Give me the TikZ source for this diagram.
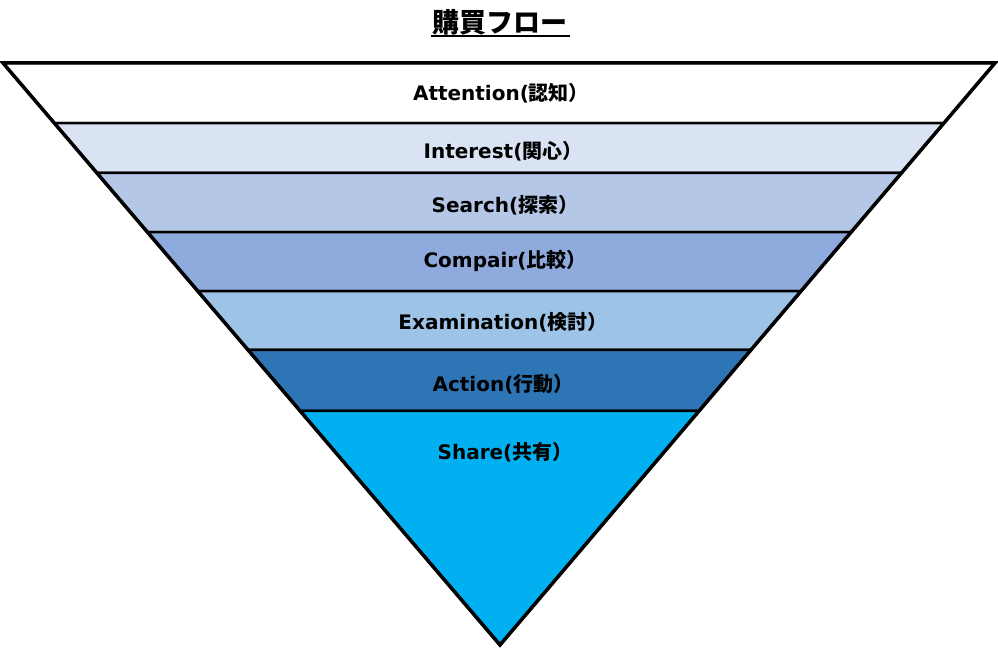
\documentclass[tikz,border=0pt]{standalone}
\usepackage{fontspec}
\newfontfamily\latf{DejaVu Sans}
\newfontfamily\cjkf{Noto Sans CJK JP}
\usetikzlibrary{calc}
\newcommand\lbl[2]{{\latf\bfseries #1}{\cjkf\bfseries #2}}
\definecolor{cInterest}{HTML}{DAE3F3}
\definecolor{cSearch}{HTML}{B4C7E7}
\definecolor{cCompair}{HTML}{8FAADC}
\definecolor{cExam}{HTML}{9DC3E6}
\definecolor{cAction}{HTML}{2E75B6}
\definecolor{cShare}{HTML}{00B0F0}
\tikzset{
  band/.style={draw=black, line width=2.5pt, line join=miter},
  outline/.style={draw=black, line width=3.5pt, line join=miter},
  lab/.style={font=\fontsize{20}{23}\selectfont, text=black, inner sep=0pt, anchor=center},
}
\begin{document}
\begin{tikzpicture}[x=1pt,y=-1pt]
\useasboundingbox (0,0) rectangle (998,650);
\coordinate (TL) at (3,63);
\coordinate (TR) at (995,63);
\coordinate (B) at (500,645);
% band boundary points
\foreach \n/\t in {1/0.1031,2/0.1890,3/0.2904,4/0.3918,5/0.4931,6/0.5979}{
  \coordinate (L\n) at ($(TL)!\t!(B)$);
  \coordinate (R\n) at ($(TR)!\t!(B)$);
}
\path[band, fill=white] (TL) -- (TR) -- (R1) -- (L1) -- cycle;
\path[band, fill=cInterest] (L1) -- (R1) -- (R2) -- (L2) -- cycle;
\path[band, fill=cSearch] (L2) -- (R2) -- (R3) -- (L3) -- cycle;
\path[band, fill=cCompair] (L3) -- (R3) -- (R4) -- (L4) -- cycle;
\path[band, fill=cExam] (L4) -- (R4) -- (R5) -- (L5) -- cycle;
\path[band, fill=cAction] (L5) -- (R5) -- (R6) -- (L6) -- cycle;
\path[band, fill=cShare] (L6) -- (R6) -- (B) -- cycle;
\path[outline] (TL) -- (TR) -- (B) -- cycle;
% labels
\node[lab] (attention) at (501,93) {\lbl{Attention(}{認知）}};
\node[lab] (interest) at (503,151) {\lbl{Interest(}{関心）}};
\node[lab] (search) at (505,205) {\lbl{Search(}{探索）}};
\node[lab] (compair) at (505,261) {\lbl{Compair(}{比較）}};
\node[lab] (exam) at (503,322) {\lbl{Examination(}{検討）}};
\node[lab] (action) at (503,384) {\lbl{Action(}{行動）}};
\node[lab] (share) at (505,452) {\lbl{Share(}{共有）}};
% title
\node[inner sep=0pt, font=\cjkf\bfseries\fontsize{27}{30}\selectfont] (title) at (500,22) {購買フロー};
\draw[line width=2pt] (431,36) -- (570,36);
\end{tikzpicture}
\end{document}
